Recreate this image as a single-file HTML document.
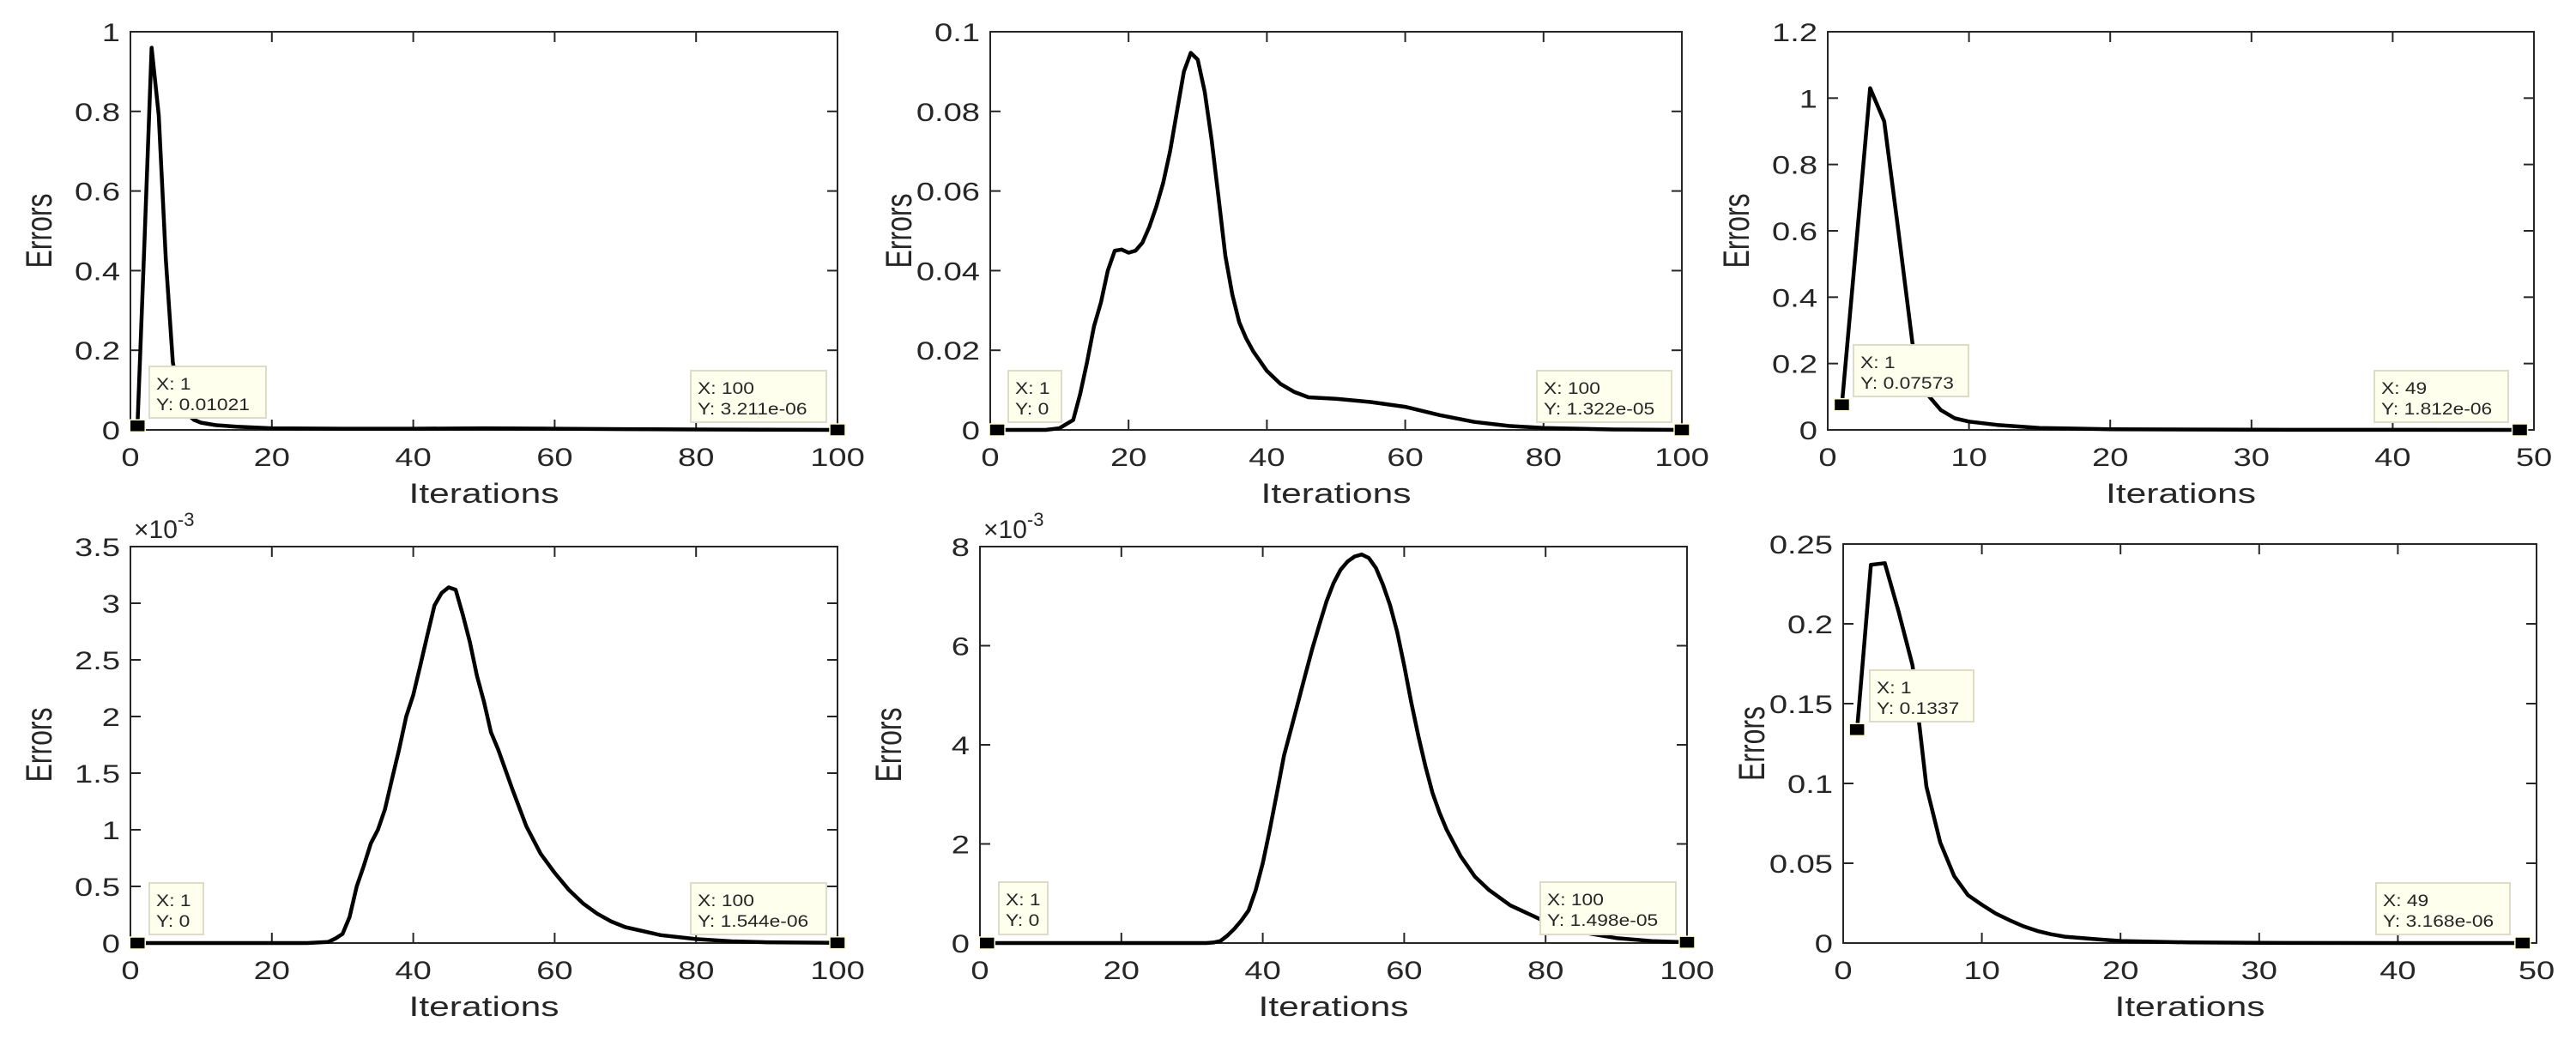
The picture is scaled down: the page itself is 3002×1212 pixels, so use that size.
<!DOCTYPE html>
<html><head><meta charset="utf-8"><style>
html,body{margin:0;padding:0;background:#fff;}
svg{display:block;font-family:"Liberation Sans",Arial,sans-serif;}
</style></head><body>
<svg id="chart" width="3002" height="1212" viewBox="0 0 3002 1212" xmlns="http://www.w3.org/2000/svg"></svg>
<script>
// ---- data (panel 1) ----
const p1X = [1,2,3,4,5,6,7,8,9,10,12,15,20,30,40,50,60,70,80,90,100];
const p1Y = [0.0102,0.48,0.96,0.79,0.43,0.17,0.07,0.04,0.025,0.018,0.012,0.008,0.004,0.003,0.003,0.004,0.003,0.002,0.001,0.0005,0];
const p1YTicks = [0,0.2,0.4,0.6,0.8,1];
const p1YTickLabels = ["0","0.2","0.4","0.6","0.8","1"];
const p1XTicks = [0,20,40,60,80,100];
// ---- panel 2 ----
const p2X = [1,8,10,12,13,14,15,16,17,18,19,20,21,22,23,24,25,26,27,28,29,30,31,32,33,34,35,36,37,38,40,42,44,46,50,55,60,65,70,75,80,90,100];
const p2Y = [0,0,0.0004,0.0025,0.009,0.017,0.026,0.032,0.040,0.045,0.0453,0.0445,0.045,0.047,0.051,0.056,0.062,0.070,0.080,0.090,0.0947,0.093,0.085,0.073,0.0585,0.0437,0.034,0.027,0.023,0.0198,0.0148,0.0115,0.0095,0.0082,0.0078,0.007,0.0058,0.0037,0.002,0.001,0.0005,0.0001,0];
const p2YTicks = [0,0.02,0.04,0.06,0.08,0.1];
const p2YTickLabels = ["0","0.02","0.04","0.06","0.08","0.1"];
const p2XTicks = [0,20,40,60,80,100];
// ---- panel 3 ----
const p3X = [1,2,3,4,5,6,7,8,9,10,12,15,20,30,40,49];
const p3Y = [0.0757,0.55,1.03,0.93,0.6,0.26,0.11,0.06,0.035,0.025,0.015,0.006,0.002,0.0005,0.0002,0];
const p3YTicks = [0,0.2,0.4,0.6,0.8,1,1.2];
const p3YTickLabels = ["0","0.2","0.4","0.6","0.8","1","1.2"];
const p3XTicks = [0,10,20,30,40,50];
// ---- panel 4 (x1e-3) ----
const p4X = [1,25,28,29,30,31,32,33,34,35,36,37,38,39,40,41,42,43,44,45,46,47,48,49,50,51,52,54,56,58,60,62,64,66,68,70,75,80,85,90,100];
const p4Y = [0,0,0.01,0.04,0.08,0.23,0.5,0.68,0.88,1.0,1.18,1.45,1.71,2.0,2.19,2.45,2.72,2.98,3.09,3.14,3.12,2.9,2.66,2.36,2.13,1.86,1.71,1.36,1.03,0.79,0.62,0.47,0.35,0.26,0.19,0.14,0.07,0.035,0.015,0.007,0.0015];
const p4YTicks = [0,0.5,1,1.5,2,2.5,3,3.5];
const p4YTickLabels = ["0","0.5","1","1.5","2","2.5","3","3.5"];
const p4XTicks = [0,20,40,60,80,100];
// ---- panel 5 (x1e-3) ----
const p5X = [1,32,33,34,35,36,37,38,39,40,41,42,43,44,45,46,47,48,49,50,51,52,53,54,55,56,57,58,59,60,61,62,63,64,65,66,68,70,72,75,80,85,90,95,100];
const p5Y = [0,0,0.01,0.04,0.15,0.29,0.46,0.66,1.07,1.61,2.29,3.03,3.78,4.32,4.86,5.4,5.94,6.42,6.89,7.26,7.53,7.70,7.8,7.84,7.77,7.57,7.23,6.82,6.28,5.6,4.86,4.18,3.57,3.03,2.63,2.29,1.75,1.34,1.07,0.76,0.43,0.22,0.1,0.04,0.015];
const p5YTicks = [0,2,4,6,8];
const p5YTickLabels = ["0","2","4","6","8"];
const p5XTicks = [0,20,40,60,80,100];
// ---- panel 6 ----
const p6X = [1,2,3,4,5,6,7,8,9,10,11,12,13,14,15,16,18,20,25,30,40,49];
const p6Y = [0.1337,0.237,0.238,0.2076,0.174,0.098,0.063,0.042,0.030,0.024,0.0185,0.0143,0.0105,0.0076,0.0055,0.004,0.0025,0.0013,0.0004,0.0001,0,0];
const p6YTicks = [0,0.05,0.1,0.15,0.2,0.25];
const p6YTickLabels = ["0","0.05","0.1","0.15","0.2","0.25"];
const p6XTicks = [0,10,20,30,40,50];

const NS = "http://www.w3.org/2000/svg";
const svg = document.getElementById('chart');
const INK = "#262626";
function mk(tag, attrs, parent){
  const e = document.createElementNS(NS, tag);
  for (const k in attrs) e.setAttribute(k, attrs[k]);
  (parent||svg).appendChild(e);
  return e;
}
function txt(parent, x, y, s, size, anchor, sx, rot){
  const g = mk('g', {transform:`translate(${x},${y}) scale(${sx},1)` + (rot?` rotate(${rot})`:'')}, parent);
  const t = mk('text', {x:0, y:0, 'font-size':size, 'text-anchor':anchor, fill:INK}, g);
  t.textContent = s;
  return t;
}

function panel(id, box, xMax, yMax, xs, ys, yTicks, yLabels, xTicks, tips, expo){
  const [L, T, R, B] = box;
  const g = mk('g', {});
  
  
  const sx = v => L + (v / xMax) * (R - L);
  const sy = v => B - (v / yMax) * (B - T);
  const frame = mk('rect', {x:L, y:T, width:R-L, height:B-T, fill:'none', stroke:INK, 'stroke-width':2}, g);
  
  
  const tl = 12;
  yTicks.forEach((v, i) => {
    const y = sy(v);
    mk('line', {x1:L, x2:L+tl, y1:y, y2:y, stroke:INK, 'stroke-width':2}, g);
    mk('line', {x1:R, x2:R-tl, y1:y, y2:y, stroke:INK, 'stroke-width':2}, g);
    const t = txt(g, L-12, y+11, yLabels[i], 30, 'end', 1.27);
    
    
  });
  xTicks.forEach(v => {
    const x = sx(v);
    mk('line', {x1:x, x2:x, y1:B, y2:B-tl, stroke:INK, 'stroke-width':2}, g);
    mk('line', {x1:x, x2:x, y1:T, y2:T+tl, stroke:INK, 'stroke-width':2}, g);
    const t = txt(g, x, B+42, String(v), 30, 'middle', 1.27);
    
    
  });
  const xl = txt(g, (L+R)/2, B+85, 'Iterations', 32, 'middle', 1.33);
  
  
  const yl = txt(g, L-92, (T+B)/2, 'Errors', 32, 'middle', 1.33, -90);
  
  
  if (expo){
    const e = mk('text', {x:L+4, y:T-10, 'font-size':30, fill:INK}, g);
    e.textContent = '×10';
    const sup = mk('tspan', {dy:-14, 'font-size':22}, e);
    sup.textContent = '-3';
    
    
  }
  const pts = xs.map((x, i) => sx(x).toFixed(1) + ',' + sy(ys[i]).toFixed(1)).join(' ');
  const line = mk('polyline', {points:pts, fill:'none', stroke:'#000', 'stroke-width':4.5, 'stroke-linejoin':'round'}, g);
  
  
  tips.forEach(tp => {
    const idx = tp.idx;
    const mx = sx(xs[idx]), my = sy(ys[idx]);
    const m = mk('rect', {x:mx-9, y:my-7, width:18, height:14, fill:'#000', stroke:'#ffffd0', 'stroke-width':1.5}, g);
    
    
    const [bx, by, bw, bh] = tp.box;
    const bg = mk('g', {}, g);
    
    
    mk('rect', {x:bx, y:by, width:bw, height:bh, fill:'#ffffee', stroke:'#dcdcc8', 'stroke-width':2}, bg);
    txt(bg, bx+8, by+27, tp.l1, 19, 'start', 1.2);
    txt(bg, bx+8, by+51, tp.l2, 19, 'start', 1.2);
  });
}

panel('panel-1', [152,37,976,501], 100, 1, p1X, p1Y, p1YTicks, p1YTickLabels, p1XTicks,
  [{idx:0, box:[174,427,136,60], l1:'X: 1', l2:'Y: 0.01021'},
   {idx:p1X.length-1, box:[805,432,158,60], l1:'X: 100', l2:'Y: 3.211e-06'}], false);
panel('panel-2', [1154,37,1960,501], 100, 0.1, p2X, p2Y, p2YTicks, p2YTickLabels, p2XTicks,
  [{idx:0, box:[1175,432,62,60], l1:'X: 1', l2:'Y: 0'},
   {idx:p2X.length-1, box:[1791,432,157,60], l1:'X: 100', l2:'Y: 1.322e-05'}], false);
panel('panel-3', [2130,37,2953,501], 50, 1.2, p3X, p3Y, p3YTicks, p3YTickLabels, p3XTicks,
  [{idx:0, box:[2160,402,134,60], l1:'X: 1', l2:'Y: 0.07573'},
   {idx:p3X.length-1, box:[2767,432,156,60], l1:'X: 49', l2:'Y: 1.812e-06'}], false);
panel('panel-4', [152,637,976,1099], 100, 3.5, p4X, p4Y, p4YTicks, p4YTickLabels, p4XTicks,
  [{idx:0, box:[174,1029,63,60], l1:'X: 1', l2:'Y: 0'},
   {idx:p4X.length-1, box:[805,1029,158,60], l1:'X: 100', l2:'Y: 1.544e-06'}], true);
panel('panel-5', [1142,637,1966,1099], 100, 8, p5X, p5Y, p5YTicks, p5YTickLabels, p5XTicks,
  [{idx:0, box:[1164,1028,57,61], l1:'X: 1', l2:'Y: 0'},
   {idx:p5X.length-1, box:[1795,1028,158,61], l1:'X: 100', l2:'Y: 1.498e-05'}], true);
panel('panel-6', [2148,634,2956,1099], 50, 0.25, p6X, p6Y, p6YTicks, p6YTickLabels, p6XTicks,
  [{idx:0, box:[2179,781,121,60], l1:'X: 1', l2:'Y: 0.1337'},
   {idx:p6X.length-1, box:[2769,1029,156,60], l1:'X: 49', l2:'Y: 3.168e-06'}], false);
</script>
</body></html>
